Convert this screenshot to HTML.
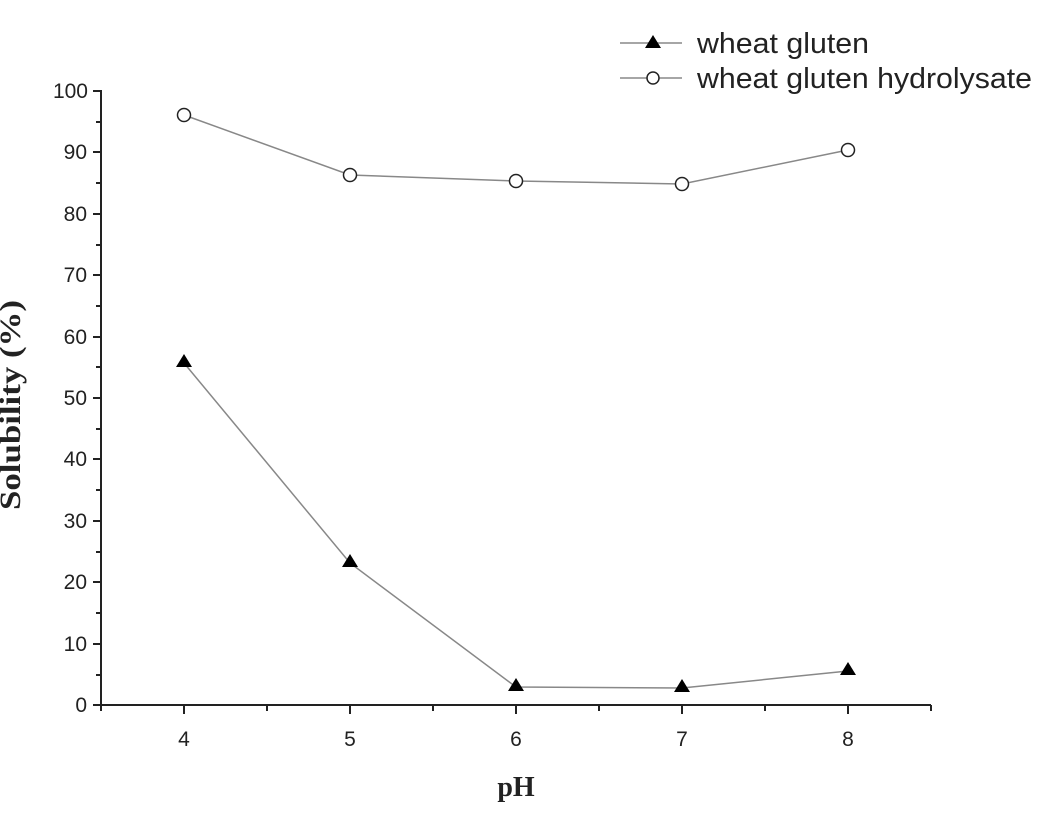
<!DOCTYPE html>
<html><head><style>body{margin:0;background:#fff}</style></head><body>
<svg width="1045" height="832" xmlns="http://www.w3.org/2000/svg" font-family="Liberation Sans, Arial, sans-serif">
<rect width="1045" height="832" fill="#fff"/>
<g stroke="#222" stroke-width="2" fill="none">
<line x1="101" y1="90" x2="101" y2="706"/>
<line x1="100" y1="705" x2="931" y2="705"/>
<path d="M93 705H101M93 644H101M93 582H101M93 521H101M93 459H101M93 398H101M93 337H101M93 275H101M93 214H101M93 152H101M93 91H101"/>
<path d="M96 675H101M96 613H101M96 552H101M96 490H101M96 429H101M96 367H101M96 306H101M96 245H101M96 183H101M96 122H101"/>
<path d="M184 705V714M350 705V714M516 705V714M682 705V714M848 705V714"/>
<path d="M101 705V711M267 705V711M433 705V711M599 705V711M765 705V711M931 705V711"/>
</g>
<g font-size="21" fill="#222" text-anchor="end">
<text x="87" y="712">0</text><text x="87" y="651">10</text><text x="87" y="589">20</text><text x="87" y="528">30</text><text x="87" y="466">40</text><text x="87" y="405">50</text><text x="87" y="344">60</text><text x="87" y="282">70</text><text x="87" y="221">80</text><text x="87" y="159">90</text><text x="88" y="98">100</text>
</g>
<g font-size="21" fill="#222" text-anchor="middle">
<text x="184" y="746">4</text><text x="350" y="746">5</text><text x="516" y="746">6</text><text x="682" y="746">7</text><text x="848" y="746">8</text>
</g>
<text x="516" y="796" font-family="Liberation Serif, serif" font-weight="bold" font-size="28" text-anchor="middle" fill="#222">pH</text>
<text transform="translate(20,405) rotate(-90)" font-family="Liberation Serif, serif" font-weight="bold" font-size="30" text-anchor="middle" fill="#222" textLength="210" lengthAdjust="spacingAndGlyphs">Solubility (%)</text>
<polyline points="184,115 350,175 516,181 682,184 848,150" fill="none" stroke="#888" stroke-width="1.5"/>
<polyline points="184,363 350,563 516,687 682,688 848,671" fill="none" stroke="#888" stroke-width="1.5"/>
<g fill="#fff" stroke="#222" stroke-width="1.5">
<circle cx="184" cy="115" r="6.5"/><circle cx="350" cy="175" r="6.5"/><circle cx="516" cy="181" r="6.5"/><circle cx="682" cy="184" r="6.5"/><circle cx="848" cy="150" r="6.5"/>
</g>
<g fill="#000">
<path d="M184 354l8 13h-16z"/><path d="M350 554l8 13h-16z"/><path d="M516 678l8 13h-16z"/><path d="M682 679l8 13h-16z"/><path d="M848 662l8 13h-16z"/>
</g>
<line x1="620" y1="43" x2="682" y2="43" stroke="#888" stroke-width="1.5"/>
<path d="M653 35l8 13h-16z" fill="#000"/>
<line x1="620" y1="78" x2="682" y2="78" stroke="#888" stroke-width="1.5"/>
<circle cx="653" cy="78" r="6" fill="#fff" stroke="#222" stroke-width="1.5"/>
<g font-size="29" fill="#222">
<text x="697" y="53" textLength="172" lengthAdjust="spacingAndGlyphs">wheat gluten</text>
<text x="697" y="88" textLength="335" lengthAdjust="spacingAndGlyphs">wheat gluten hydrolysate</text>
</g>
</svg>
</body></html>
